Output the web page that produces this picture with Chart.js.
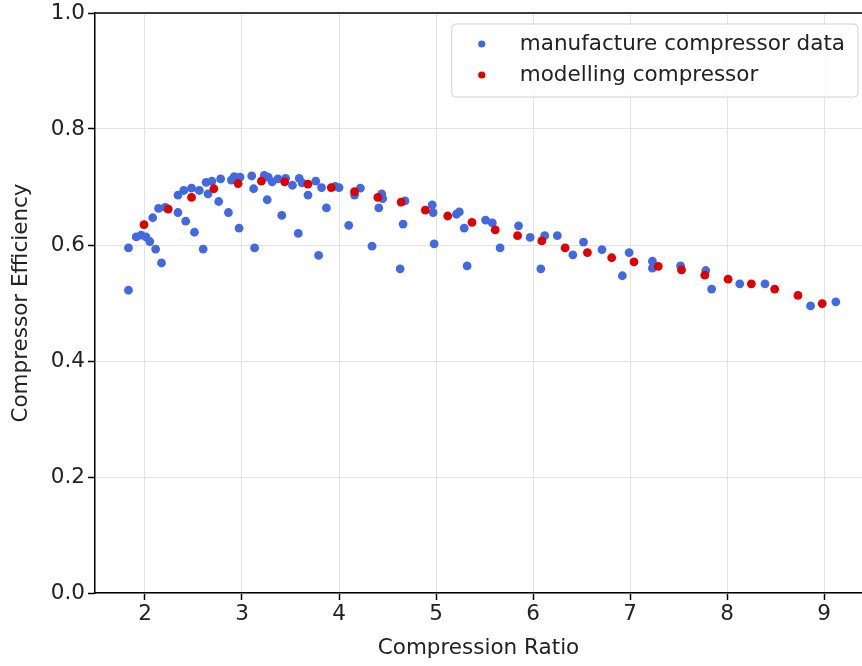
<!DOCTYPE html>
<html lang="en">

<head>
    <meta charset="UTF-8">
    <title>Compressor Efficiency</title>
    <script src="https://cdn.jsdelivr.net/npm/chart.js@4.4.1/dist/chart.umd.min.js"></script>
    <style>
        html,
        body {
            margin: 0;
            padding: 0;
            background: #fff;
            overflow: hidden;
        }
    </style>
</head>

<body>
    <canvas id="myChart" width="862" height="666"></canvas>
    <script>
        // manufacturer map (several speed lines)
        const manufRatio = [
            1.83, 1.83, 1.91, 1.96, 2.01, 2.05, 2.11, 2.17, 2.08, 2.14,
            2.21, 2.34, 2.42, 2.51, 2.60, 2.34, 2.40, 2.48, 2.56, 2.63,
            2.69, 2.65, 2.76, 2.86, 2.97, 2.78, 2.89, 2.92, 2.98, 3.10,
            3.12, 3.13, 3.23, 3.27, 3.31, 3.37, 3.26, 3.41, 3.58, 3.45,
            3.52, 3.59, 3.62, 3.68, 3.76, 3.82, 3.87, 3.79, 3.96, 4.00,
            4.10, 4.16, 4.22, 4.34, 4.44, 4.45, 4.41, 4.66, 4.68, 4.63,
            4.96, 4.97, 4.98, 5.21, 5.24, 5.29, 5.32, 5.51, 5.58, 5.66,
            5.85, 5.97, 6.12, 6.08, 6.25, 6.41, 6.52, 6.71, 6.99, 6.92,
            7.23, 7.23, 7.52, 7.78, 7.84, 8.13, 8.39, 8.86, 9.12
        ];
        const manufEff = [
            0.522, 0.595, 0.614, 0.617, 0.614, 0.606, 0.593, 0.569, 0.647, 0.663,
            0.665, 0.656, 0.641, 0.622, 0.593, 0.686, 0.694, 0.698, 0.694, 0.708,
            0.710, 0.688, 0.675, 0.656, 0.629, 0.714, 0.712, 0.718, 0.717, 0.719,
            0.697, 0.595, 0.720, 0.717, 0.709, 0.714, 0.678, 0.651, 0.620, 0.715,
            0.703, 0.715, 0.707, 0.686, 0.710, 0.699, 0.664, 0.582, 0.701, 0.699,
            0.634, 0.686, 0.698, 0.598, 0.688, 0.680, 0.664, 0.636, 0.676, 0.559,
            0.669, 0.656, 0.602, 0.653, 0.657, 0.629, 0.564, 0.643, 0.638, 0.595,
            0.633, 0.613, 0.616, 0.559, 0.616, 0.583, 0.605, 0.592, 0.587, 0.547,
            0.572, 0.560, 0.564, 0.556, 0.524, 0.533, 0.533, 0.495, 0.502
        ];
        // model output
        const modelRatio = [
            1.99, 2.24, 2.48, 2.71, 2.96, 3.20, 3.44, 3.68, 3.92, 4.16,
            4.40, 4.64, 4.89, 5.12, 5.37, 5.61, 5.84, 6.09, 6.33, 6.56,
            6.81, 7.04, 7.29, 7.53, 7.77, 8.01, 8.25, 8.49, 8.73, 8.98
        ];
        const modelEff = [
            0.635, 0.662, 0.682, 0.697, 0.706, 0.710, 0.709, 0.705, 0.699, 0.692,
            0.682, 0.674, 0.660, 0.650, 0.639, 0.626, 0.616, 0.607, 0.595, 0.587,
            0.578, 0.571, 0.563, 0.557, 0.548, 0.541, 0.533, 0.524, 0.513, 0.499
        ];
        const xTicks = [2, 3, 4, 5, 6, 7, 8, 9];
        const yTicks = [0, 0.2, 0.4, 0.6, 0.8, 1.0];
        const seriesNames = ["manufacture compressor data", "modelling compressor"];

        const fontFamily = '"DejaVu Sans", sans-serif';
        const fontSize = 21.5;
        const textColor = "#222222";
        const gridColor = "#e3e3e3";

        function toPoints(xs, ys) {
            return xs.map((x, i) => ({ x: x, y: ys[i] }));
        }

        // matplotlib style legend box + top spine
        const boxLegend = {
            id: "boxLegend",
            afterDraw(chart) {
                const ctx = chart.ctx;
                const area = chart.chartArea;
                ctx.save();
                // top spine
                ctx.strokeStyle = "#000";
                ctx.lineWidth = 1.5;
                ctx.beginPath();
                ctx.moveTo(area.left, area.top);
                ctx.lineTo(area.right, area.top);
                ctx.stroke();

                ctx.font = fontSize + "px " + fontFamily;
                const widths = chart.data.datasets.map(d => ctx.measureText(d.label).width);
                const w = 68 + Math.max(...widths) + 13;
                const h = 73;
                const right = area.right - 4;
                const top = area.top + 11;
                const left = right - w;
                ctx.beginPath();
                ctx.roundRect(left, top, w, h, 4);
                ctx.fillStyle = "rgba(255,255,255,0.85)";
                ctx.fill();
                ctx.strokeStyle = "#d0d0d0";
                ctx.lineWidth = 1;
                ctx.stroke();
                chart.data.datasets.forEach((d, i) => {
                    const y = top + 20 + i * 31;
                    ctx.beginPath();
                    ctx.arc(left + 30, y, 3.6, 0, 2 * Math.PI);
                    ctx.fillStyle = d.backgroundColor;
                    ctx.fill();
                    ctx.fillStyle = textColor;
                    ctx.textBaseline = "middle";
                    ctx.textAlign = "left";
                    ctx.fillText(d.label, left + 68, y);
                });
                ctx.restore();
            }
        };

        const ctx = document.getElementById("myChart").getContext("2d");
        const myChart = new Chart(ctx, {
            type: "scatter",
            data: {
                datasets: [{
                    label: seriesNames[0],
                    data: toPoints(manufRatio, manufEff),
                    backgroundColor: "#4169e1",
                    borderWidth: 0,
                    pointRadius: 4.4,
                    order: 2
                }, {
                    label: seriesNames[1],
                    data: toPoints(modelRatio, modelEff),
                    backgroundColor: "#e00000",
                    borderWidth: 0,
                    pointRadius: 4.4,
                    order: 1
                }]
            },
            plugins: [boxLegend],
            options: {
                responsive: false,
                animation: false,
                layout: {
                    autoPadding: false,
                    padding: { top: 13, right: 0, bottom: 0, left: 0 }
                },
                plugins: {
                    legend: { display: false },
                    tooltip: { enabled: false }
                },
                scales: {
                    x: {
                        type: "linear",
                        min: 1.485,
                        max: 9.39,
                        afterBuildTicks: function (scale) {
                            scale.ticks = xTicks.map(v => ({ value: v }));
                        },
                        afterFit: function (scale) {
                            scale.height = 73;
                            scale.paddingLeft = 0;
                            scale.paddingRight = 0;
                        },
                        grid: {
                            color: gridColor,
                            lineWidth: 1,
                            tickColor: "#000",
                            tickLength: 7,
                            tickWidth: 1.5
                        },
                        border: { color: "#000", width: 1.5 },
                        ticks: {
                            color: textColor,
                            padding: 2,
                            font: { family: fontFamily, size: fontSize },
                            callback: v => String(v)
                        },
                        title: {
                            display: true,
                            text: "Compression Ratio",
                            color: textColor,
                            padding: { top: 2, bottom: 5 },
                            font: { family: fontFamily, size: fontSize }
                        }
                    },
                    y: {
                        min: 0,
                        max: 1,
                        afterBuildTicks: function (scale) {
                            scale.ticks = yTicks.map(v => ({ value: v }));
                        },
                        afterFit: function (scale) {
                            scale.width = 95;
                            scale.paddingTop = 0;
                            scale.paddingBottom = 0;
                        },
                        grid: {
                            color: gridColor,
                            lineWidth: 1,
                            tickColor: "#000",
                            tickLength: 7,
                            tickWidth: 1.5
                        },
                        border: { color: "#000", width: 1.5 },
                        ticks: {
                            color: textColor,
                            padding: 3,
                            font: { family: fontFamily, size: fontSize },
                            callback: v => v.toFixed(1)
                        },
                        title: {
                            display: true,
                            text: "Compressor Efficiency",
                            color: textColor,
                            padding: { top: 9, bottom: 0 },
                            font: { family: fontFamily, size: fontSize }
                        }
                    }
                }
            }
        });
    </script>
</body>

</html>
